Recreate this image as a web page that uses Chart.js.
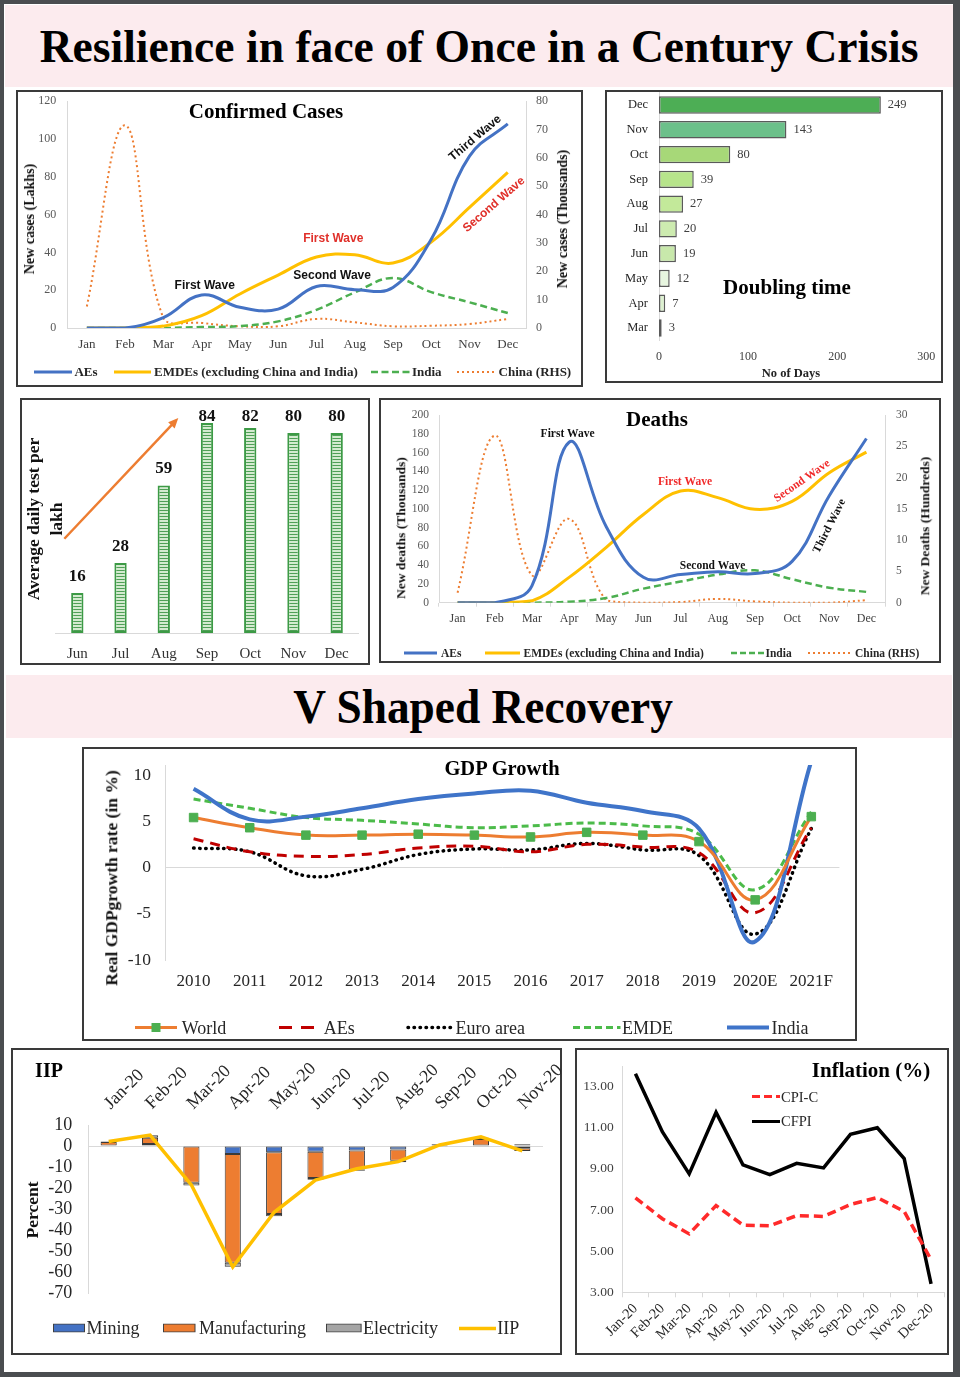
<!DOCTYPE html>
<html><head><meta charset="utf-8">
<script src="https://cdn.jsdelivr.net/npm/chart.js@4.4.1/dist/chart.umd.min.js"></script>
<style>
html,body{margin:0;padding:0;}
body{width:960px;height:1377px;background:#4a4d50;position:relative;overflow:hidden;font-family:"Liberation Serif","Times New Roman",serif;}
#sheet{position:absolute;left:4px;top:4px;width:949px;height:1368px;background:#fff;}
.band{position:absolute;background:#fcebee;}
.panel{position:absolute;box-sizing:border-box;border:2px solid #3a3a3a;background:#fff;}
canvas{position:absolute;}
.t{position:absolute;transform:translate(-50%,-50%);white-space:nowrap;font-weight:bold;line-height:1;color:#000;}
.r{transform:translate(-50%,-50%) rotate(-90deg);color:#111;}
.lg{position:absolute;display:flex;align-items:center;transform:translateY(-50%);white-space:nowrap;line-height:1;color:#262626;}
</style></head>
<body>
<div id="sheet"></div>
<div class="band" style="left:5px;top:5px;width:948px;height:82px"></div>
<div class="band" style="left:6px;top:675px;width:946px;height:63px"></div>
<div class="t" style="left:479px;top:46px;font-size:47px;transform:translate(-50%,-50%) scaleX(0.97)">Resilience in face of Once in a Century Crisis</div>
<div class="t" style="left:483px;top:707px;font-size:48px;transform:translate(-50%,-50%) scaleX(0.945)">V Shaped Recovery</div>

<div class="panel" style="left:16px;top:90px;width:567px;height:297px"></div>
<div class="panel" style="left:605px;top:90px;width:338px;height:293px"></div>
<div class="panel" style="left:20px;top:398px;width:350px;height:267px"></div>
<div class="panel" style="left:379px;top:398px;width:562px;height:265px"></div>
<div class="panel" style="left:82px;top:747px;width:775px;height:294px"></div>
<div class="panel" style="left:11px;top:1048px;width:551px;height:307px"></div>
<div class="panel" style="left:575px;top:1048px;width:374px;height:307px"></div>

<canvas id="c1" width="563" height="293" style="left:18px;top:92px"></canvas>
<canvas id="c2" width="334" height="289" style="left:607px;top:92px"></canvas>
<canvas id="c3" width="346" height="263" style="left:22px;top:400px"></canvas>
<canvas id="c4" width="558" height="261" style="left:381px;top:400px"></canvas>
<canvas id="c5" width="770" height="290" style="left:85px;top:749px"></canvas>
<canvas id="c6" width="548" height="303" style="left:13px;top:1050px"></canvas>
<canvas id="c7" width="369" height="303" style="left:578px;top:1050px"></canvas>

<div class="t" style="left:266px;top:111px;font-size:21px">Confirmed Cases</div>
<div class="t" style="left:787px;top:287px;font-size:21px">Doubling time</div>
<div class="t" style="left:791px;top:373px;font-size:12.5px;color:#222">No of Days</div>
<div class="t" style="left:657px;top:419px;font-size:21px">Deaths</div>
<div class="t" style="left:502px;top:768px;font-size:20.5px">GDP Growth</div>
<div class="t" style="left:49px;top:1070px;font-size:20px">IIP</div>
<div class="t" style="left:871px;top:1070px;font-size:21px">Inflation (%)</div>

<div class="t r" style="left:30px;top:219px;font-size:14px">New cases (Lakhs)</div>
<div class="t r" style="left:563px;top:219px;font-size:14px">New cases (Thousands)</div>
<div class="t r" style="left:45px;top:519px;font-size:17.5px;line-height:23.4px;text-align:center">Average daily test per<br>lakh</div>
<div class="t r" style="left:401px;top:528px;font-size:13.5px">New deaths (Thousands)</div>
<div class="t r" style="left:925px;top:526px;font-size:13.5px">New Deaths (Hundreds)</div>
<div class="t r" style="left:112px;top:878px;font-size:17.5px">Real GDPgrowth rate (in %)</div>
<div class="t r" style="left:33px;top:1210px;font-size:17.5px">Percent</div>

<script>
// ---------------- DATA ----------------
const months = ['Jan','Feb','Mar','Apr','May','Jun','Jul','Aug','Sep','Oct','Nov','Dec'];

const casesLeftTicks = [0,20,40,60,80,100,120];
const casesRightTicks = [0,10,20,30,40,50,60,70,80];
const casesAEs = [0, 0, 5.5, 17.5, 11, 10, 22, 20.3, 21.5, 47, 91, 108];
const casesEMDEs = [0, 0, 1, 6.5, 18, 28, 37.6, 38.8, 34.4, 45.5, 63.8, 82.4];
const casesIndia = [0, 0, 0, 0.5, 1, 3.5, 9.6, 18.8, 26.5, 19, 13.6, 7.9];
const casesChina = [7.6, 71.5, 3.5, 1.8, 0.6, 0.6, 3.2, 2, 0.6, 0.8, 1.4, 3.2];

const doublingMonths = ['Dec','Nov','Oct','Sep','Aug','Jul','Jun','May','Apr','Mar'];
const doublingDays = [249, 143, 80, 39, 27, 20, 19, 12, 7, 3];
const doublingTicks = [0, 100, 200, 300];
const doublingColors = ['#4dae55','#6cc08a','#a7d878','#b7e48b','#c3e99a','#cdebb0','#c8e8ab','#e7f5df','#ddf1d0','#ebf7e5'];

const testMonths = ['Jun','Jul','Aug','Sep','Oct','Nov','Dec'];
const testsPerLakh = [16, 28, 59, 84, 82, 80, 80];

const deathsLeftTicks = [0,20,40,60,80,100,120,140,160,180,200];
const deathsRightTicks = [0,5,10,15,20,25,30];
const deathsAEs = [0, 0, 18, 171, 81, 27, 30, 33, 31, 44, 114, 175];
const deathsEMDEs = [0, 0, 2, 27, 59, 94, 119, 112, 99.5, 108, 138.5, 160.5];
const deathsIndia = [0, 0, 0, 1, 5, 15, 22.5, 30, 34.5, 25, 16, 11.5];
const deathsChina = [1.6, 26.7, 4.4, 13.4, 0.4, 0, 0.1, 0.6, 0.2, 0, 0, 0.4];

const gdpYears = ['2010','2011','2012','2013','2014','2015','2016','2017','2018','2019','2020E','2021F'];
const gdpTicks = [-10, -5, 0, 5, 10];
const gdpWorld = [5.4, 4.3, 3.5, 3.5, 3.6, 3.5, 3.3, 3.8, 3.5, 2.8, -3.5, 5.5];
const gdpAEs = [3.1, 1.7, 1.2, 1.4, 2.1, 2.3, 1.7, 2.5, 2.2, 1.6, -4.9, 4.3];
const gdpEuro = [2.1, 1.7, -0.9, -0.2, 1.4, 2.0, 1.9, 2.6, 1.9, 1.3, -7.2, 4.2];
const gdpEMDE = [7.4, 6.4, 5.4, 5.1, 4.7, 4.3, 4.5, 4.8, 4.5, 3.6, -2.4, 6.0];
const gdpIndia = [8.5, 5.2, 5.5, 6.4, 7.4, 8.0, 8.3, 7.0, 6.1, 4.2, -8.0, 11.5];

const iipMonths = ['Jan-20','Feb-20','Mar-20','Apr-20','May-20','Jun-20','Jul-20','Aug-20','Sep-20','Oct-20','Nov-20'];
const iipTicks = [-70, -60, -50, -40, -30, -20, -10, 0, 10];
const iipMining = [0.2, 1.0, -0.2, -3.8, -3.0, -2.7, -2.1, -1.6, -0.3, -0.3, -1.1];
const iipManufacturing = [1.7, 2.9, -17.2, -51.7, -29.3, -12.5, -9.0, -5.4, 0.2, 3.3, -1.3];
const iipElectricity = [0.3, 1.2, -1.3, -1.9, -1.1, -0.8, -0.6, -0.7, 0.6, 0.6, 0.8];
const iipIndex = [2.2, 5.2, -18.5, -57.5, -31.5, -16.2, -10.8, -7.4, 0.5, 4.4, -2.3];

const inflMonths = ['Jan-20','Feb-20','Mar-20','Apr-20','May-20','Jun-20','Jul-20','Aug-20','Sep-20','Oct-20','Nov-20','Dec-20'];
const inflTicks = [3, 5, 7, 9, 11, 13];
const cpiC = [7.59, 6.58, 5.84, 7.22, 6.27, 6.23, 6.73, 6.69, 7.27, 7.61, 6.93, 4.59];
const cfpi = [13.63, 10.81, 8.76, 11.75, 9.2, 8.72, 9.27, 9.05, 10.68, 11.0, 9.5, 3.41];

// ---------------- SETUP ----------------
Chart.defaults.font.family = '"Liberation Serif","Times New Roman",serif';
Chart.defaults.color = '#404040';
Chart.defaults.animation = false;
Chart.defaults.responsive = false;
Chart.defaults.maintainAspectRatio = false;
Chart.defaults.devicePixelRatio = 1;
Chart.defaults.plugins.legend.display = false;
Chart.defaults.plugins.tooltip.enabled = false;
Chart.defaults.elements.point.radius = 0;

const fixW = w => s => { s.width = w; s.paddingTop = 0; s.paddingBottom = 0; };
const fixH = h => s => { s.height = h; s.paddingLeft = 0; s.paddingRight = 0; };
const setTicks = arr => s => { s.ticks = arr.map(v => ({value: v})); };
const zeroOnly = c => (c.tick && c.tick.value === 0) ? '#d9d9d9' : 'rgba(0,0,0,0)';
const LG = '#d9d9d9';
const NOGRID = {display: false, drawTicks: false};

const annotText = {
  id: 'annotText',
  afterDatasetsDraw(chart, args, o) {
    const ctx = chart.ctx;
    (o.items || []).forEach(it => {
      const x = chart.scales.x.getPixelForValue(it.x);
      const y = chart.scales[it.axis || 'y'].getPixelForValue(it.y);
      ctx.save();
      ctx.translate(x, y);
      ctx.rotate((it.rot || 0) * Math.PI / 180);
      ctx.font = it.font || o.font;
      ctx.fillStyle = it.color || '#000';
      ctx.textAlign = 'center';
      ctx.textBaseline = 'middle';
      ctx.fillText(it.text, 0, 0);
      ctx.restore();
    });
  }
};

const barLabels = {
  id: 'barLabels',
  afterDatasetsDraw(chart, args, o) {
    const ctx = chart.ctx, meta = chart.getDatasetMeta(0), vals = chart.data.datasets[0].data;
    ctx.save();
    ctx.font = o.font; ctx.fillStyle = o.color; ctx.textBaseline = 'middle';
    meta.data.forEach((el, i) => {
      const t = String(vals[i]);
      if (o.horizontal) { ctx.textAlign = 'left'; ctx.fillText(t, el.x + o.offset, el.y); }
      else { ctx.textAlign = 'center'; ctx.fillText(t, el.x, Math.max(el.y - o.offset, chart.chartArea.top + (o.minTop || 0))); }
    });
    ctx.restore();
  }
};

const arrowPlugin = {
  id: 'arrow',
  afterDatasetsDraw(chart, args, o) {
    const xs = chart.scales.x, ys = chart.scales.y, ctx = chart.ctx;
    const x1 = xs.getPixelForValue(o.from[0]), y1 = ys.getPixelForValue(o.from[1]);
    const x2 = xs.getPixelForValue(o.to[0]), y2 = ys.getPixelForValue(o.to[1]);
    const a = Math.atan2(y2 - y1, x2 - x1), h = o.head || 11;
    ctx.save();
    ctx.strokeStyle = o.color; ctx.fillStyle = o.color; ctx.lineWidth = o.width;
    ctx.beginPath(); ctx.moveTo(x1, y1);
    ctx.lineTo(x2 - h * 0.8 * Math.cos(a), y2 - h * 0.8 * Math.sin(a)); ctx.stroke();
    ctx.beginPath(); ctx.moveTo(x2, y2);
    ctx.lineTo(x2 - h * Math.cos(a - 0.42), y2 - h * Math.sin(a - 0.42));
    ctx.lineTo(x2 - h * Math.cos(a + 0.42), y2 - h * Math.sin(a + 0.42));
    ctx.closePath(); ctx.fill();
    ctx.restore();
  }
};

function stripePattern() {
  const c = document.createElement('canvas'); c.width = 4; c.height = 3;
  const g = c.getContext('2d');
  g.fillStyle = '#d3ebcf'; g.fillRect(0, 0, 4, 3);
  g.fillStyle = '#4f9f56'; g.fillRect(0, 2, 4, 1);
  return g.createPattern(c, 'repeat');
}

// legend helpers (HTML)
function lineSw(w, color, lw, dash, cap, marker) {
  return '<svg width="' + w + '" height="12" style="display:block;overflow:visible"><line x1="0" y1="6" x2="' + w + '" y2="6" stroke="' + color + '" stroke-width="' + lw + '"' + (dash ? ' stroke-dasharray="' + dash + '"' : '') + ' stroke-linecap="' + (cap || 'butt') + '"/>' + (marker || '') + '</svg>';
}
function boxSw(w, h, color) {
  return '<svg width="' + w + '" height="' + h + '" style="display:block"><rect x="0.5" y="0.5" width="' + (w - 1) + '" height="' + (h - 1) + '" fill="' + color + '" stroke="#404040" stroke-width="1"/></svg>';
}
function legend(items, font) {
  items.forEach(it => {
    const d = document.createElement('div');
    d.className = 'lg';
    d.style.left = it.x + 'px'; d.style.top = it.y + 'px'; d.style.font = font;
    d.innerHTML = it.sw + '<span style="margin-left:' + it.gap + 'px">' + it.text + '</span>';
    document.body.appendChild(d);
  });
}

// ---------------- CHART 1: Confirmed cases ----------------
new Chart(document.getElementById('c1'), {
  type: 'line',
  data: { labels: months, datasets: [
    {data: casesAEs, borderColor: '#4472c4', borderWidth: 3, tension: 0.4, yAxisID: 'y'},
    {data: casesEMDEs, borderColor: '#ffc000', borderWidth: 3, tension: 0.4, yAxisID: 'y'},
    {data: casesIndia, borderColor: '#4caf50', borderWidth: 2.5, borderDash: [7, 4], tension: 0.4, yAxisID: 'y'},
    {data: casesChina, borderColor: '#ed7d31', borderWidth: 2, borderDash: [2, 3], tension: 0.4, yAxisID: 'y1'}
  ]},
  options: {
    responsive: false,
    layout: {padding: {left: 0, right: 0, top: 9.3, bottom: 0}},
    scales: {
      x: {offset: true, grid: NOGRID, border: {color: LG}, ticks: {autoSkip: false, padding: 9, font: {size: 13}, color: '#404040'}, afterFit: fixH(57)},
      y: {min: 0, max: 120, afterBuildTicks: setTicks(casesLeftTicks), grid: NOGRID, border: {color: LG}, ticks: {autoSkip: false, padding: 11.5, font: {size: 12}, color: '#595959'}, afterFit: fixW(49.7)},
      y1: {position: 'right', min: 0, max: 80, afterBuildTicks: setTicks(casesRightTicks), grid: NOGRID, border: {color: LG}, ticks: {autoSkip: false, padding: 9, font: {size: 12}, color: '#595959'}, afterFit: fixW(54.1)}
    },
    plugins: {annotText: {font: 'bold 12px "Liberation Sans"', items: [
      {text: 'First Wave', x: 3.08, y: 22.6, color: '#111'},
      {text: 'First Wave', x: 6.44, y: 47.1, color: '#e0302a'},
      {text: 'Second Wave', x: 6.41, y: 27.7, color: '#111'},
      {text: 'Third Wave', x: 10.15, y: 100.6, rot: -40, color: '#111'},
      {text: 'Second Wave', x: 10.64, y: 65.3, rot: -41, color: '#e0302a'}
    ]}}
  },
  plugins: [annotText]
});

// ---------------- CHART 2: Doubling time ----------------
new Chart(document.getElementById('c2'), {
  type: 'bar',
  data: { labels: doublingMonths, datasets: [
    {data: doublingDays, backgroundColor: doublingColors, borderColor: '#5a5a5a', borderWidth: 1.5, borderSkipped: false, barPercentage: 0.7, categoryPercentage: 1}
  ]},
  options: {
    responsive: false,
    indexAxis: 'y',
    layout: {padding: {left: 0, right: 14.7, top: 0.6, bottom: 0}},
    scales: {
      x: {min: 0, max: 300, afterBuildTicks: setTicks(doublingTicks), grid: NOGRID, border: {display: false}, ticks: {autoSkip: false, padding: 9, font: {size: 12}, color: '#404040'}, afterFit: fixH(40.6)},
      y: {grid: NOGRID, border: {color: LG}, ticks: {autoSkip: false, padding: 11, font: {size: 12.5}, color: '#262626'}, afterFit: fixW(52)}
    },
    plugins: {barLabels: {font: '12.5px "Liberation Serif"', color: '#404040', offset: 7, horizontal: true}}
  },
  plugins: [barLabels]
});

// ---------------- CHART 3: Tests ----------------
new Chart(document.getElementById('c3'), {
  type: 'bar',
  data: { labels: testMonths, datasets: [
    {data: testsPerLakh, backgroundColor: stripePattern(), borderColor: '#3c9a45', borderWidth: 2, borderSkipped: false, barPercentage: 0.285, categoryPercentage: 1}
  ]},
  options: {
    responsive: false,
    layout: {padding: {left: 33.7, right: 9.7, top: 3, bottom: 0}},
    scales: {
      x: {grid: NOGRID, border: {color: LG}, ticks: {autoSkip: false, padding: 12, font: {size: 15}, color: '#333'}, afterFit: fixH(30)},
      y: {display: false, min: 0, max: 92}
    },
    plugins: {
      barLabels: {font: 'bold 17px "Liberation Serif"', color: '#111', offset: 16.7, minTop: 13.7},
      arrow: {from: [-0.3, 37.7], to: [2.336, 86], color: '#ed7d31', width: 2.5, head: 11}
    }
  },
  plugins: [barLabels, arrowPlugin]
});

// ---------------- CHART 4: Deaths ----------------
new Chart(document.getElementById('c4'), {
  type: 'line',
  data: { labels: months, datasets: [
    {data: deathsAEs, borderColor: '#4472c4', borderWidth: 3, tension: 0.4, yAxisID: 'y'},
    {data: deathsEMDEs, borderColor: '#ffc000', borderWidth: 3, tension: 0.4, yAxisID: 'y'},
    {data: deathsIndia, borderColor: '#4caf50', borderWidth: 2.5, borderDash: [7, 4], tension: 0.4, yAxisID: 'y'},
    {data: deathsChina, borderColor: '#ed7d31', borderWidth: 2, borderDash: [2, 3], tension: 0.4, yAxisID: 'y1'}
  ]},
  options: {
    responsive: false,
    layout: {padding: {left: 0, right: 0, top: 15, bottom: 0}},
    scales: {
      x: {offset: true, grid: {display: true, drawOnChartArea: false, drawTicks: true, tickLength: 4, offset: true, color: LG}, border: {color: LG}, ticks: {autoSkip: false, padding: 5, font: {size: 12}, color: '#404040'}, afterFit: fixH(58.3)},
      y: {min: 0, max: 200, afterBuildTicks: setTicks(deathsLeftTicks), grid: NOGRID, border: {color: LG}, ticks: {autoSkip: false, padding: 10, font: {size: 11.5}, color: '#595959'}, afterFit: fixW(58)},
      y1: {position: 'right', min: 0, max: 30, afterBuildTicks: setTicks(deathsRightTicks), grid: NOGRID, border: {color: LG}, ticks: {autoSkip: false, padding: 11, font: {size: 11.5}, color: '#595959'}, afterFit: fixW(54)}
    },
    plugins: {annotText: {font: 'bold 11.5px "Liberation Serif"', items: [
      {text: 'First Wave', x: 2.96, y: 179.8, color: '#111'},
      {text: 'First Wave', x: 6.12, y: 128.6, color: '#f02a2a'},
      {text: 'Second Wave', x: 9.27, y: 129.7, rot: -35, color: '#f02a2a'},
      {text: 'Third Wave', x: 10.01, y: 81.7, rot: -63, color: '#111'},
      {text: 'Second Wave', x: 6.86, y: 39.1, color: '#111'}
    ]}}
  },
  plugins: [annotText]
});

// ---------------- CHART 5: GDP growth ----------------
new Chart(document.getElementById('c5'), {
  type: 'line',
  data: { labels: gdpYears, datasets: [
    {data: gdpWorld, borderColor: '#ed7d31', borderWidth: 3, tension: 0.4, pointRadius: 6, pointStyle: 'rect', pointBackgroundColor: '#4caf50', pointBorderColor: '#4caf50', pointBorderWidth: 1, order: 0},
    {data: gdpAEs, borderColor: '#c00000', borderWidth: 3, borderDash: [10, 7], tension: 0.4, order: 2},
    {data: gdpEuro, borderColor: '#000000', borderWidth: 3.5, borderDash: [0.5, 5.5], borderCapStyle: 'round', tension: 0.4, order: 2},
    {data: gdpEMDE, borderColor: '#4cbb4a', borderWidth: 3, borderDash: [7, 4], tension: 0.4, order: 2},
    {data: gdpIndia, borderColor: '#3f74c9', borderWidth: 4, tension: 0.4, order: 1}
  ]},
  options: {
    responsive: false,
    layout: {padding: {left: 0, right: 15.6, top: 16, bottom: 0}},
    scales: {
      x: {offset: true, grid: NOGRID, border: {display: false}, ticks: {autoSkip: false, padding: 11.5, font: {size: 17}, color: '#262626'}, afterFit: fixH(79)},
      y: {min: -10, max: 11.08, afterBuildTicks: setTicks(gdpTicks), grid: {color: zeroOnly, drawTicks: false}, border: {color: LG}, ticks: {autoSkip: false, padding: 14.5, font: {size: 17.5}, color: '#262626'}, afterFit: fixW(80.5)}
    }
  }
});

// ---------------- CHART 6: IIP ----------------
new Chart(document.getElementById('c6'), {
  type: 'bar',
  data: { labels: iipMonths, datasets: [
    {type: 'line', data: iipIndex, borderColor: '#ffc000', borderWidth: 3.5, tension: 0, pointRadius: 0, stack: 'iip', order: 0, fill: false},
    {data: iipMining, backgroundColor: '#4472c4', borderColor: '#3a3a3a', borderWidth: 1, borderSkipped: false, barPercentage: 0.39, categoryPercentage: 1, order: 1},
    {data: iipManufacturing, backgroundColor: '#ed7d31', borderColor: '#3a3a3a', borderWidth: 1, borderSkipped: false, barPercentage: 0.39, categoryPercentage: 1, order: 1},
    {data: iipElectricity, backgroundColor: '#a5a5a5', borderColor: '#3a3a3a', borderWidth: 1, borderSkipped: false, barPercentage: 0.39, categoryPercentage: 1, order: 1}
  ]},
  options: {
    responsive: false,
    layout: {padding: {left: 0, right: 18, top: 0, bottom: 59.7}},
    scales: {
      x: {position: 'top', stacked: true, grid: NOGRID, border: {display: false}, ticks: {autoSkip: false, padding: 11, labelOffset: 14, minRotation: 45, maxRotation: 45, font: {size: 18}, color: '#262626'}, afterFit: fixH(75)},
      y: {stacked: true, min: -70, max: 10, afterBuildTicks: setTicks(iipTicks), grid: {color: zeroOnly, drawTicks: false}, border: {color: LG}, ticks: {autoSkip: false, padding: 15.7, font: {size: 18}, color: '#262626'}, afterFit: fixW(75)}
    }
  }
});

// ---------------- CHART 7: Inflation ----------------
new Chart(document.getElementById('c7'), {
  type: 'line',
  data: { labels: inflMonths, datasets: [
    {data: cpiC, borderColor: '#ff2a2a', borderWidth: 3.5, borderDash: [9, 5], tension: 0},
    {data: cfpi, borderColor: '#000000', borderWidth: 3.5, tension: 0}
  ]},
  options: {
    responsive: false,
    layout: {padding: {left: 0, right: 2.5, top: 16.1, bottom: 0}},
    scales: {
      x: {offset: true, grid: {display: true, drawOnChartArea: false, drawTicks: true, tickLength: 5, offset: true, color: LG}, border: {color: LG}, ticks: {autoSkip: false, padding: 3, minRotation: 45, maxRotation: 45, font: {size: 14.5}, color: '#262626'}, afterFit: fixH(60.7)},
      y: {min: 3, max: 14, afterBuildTicks: setTicks(inflTicks), grid: NOGRID, border: {color: LG}, ticks: {autoSkip: false, padding: 8.3, font: {size: 13.5}, color: '#404040', callback: v => Number(v).toFixed(2)}, afterFit: fixW(44)}
    }
  }
});

// ---------------- HTML legends ----------------
legend([
  {x: 33.8, y: 372.3, sw: lineSw(38, '#4472c4', 3), gap: 2.7, text: 'AEs'},
  {x: 113.6, y: 372.3, sw: lineSw(37, '#ffc000', 3), gap: 3.4, text: 'EMDEs (excluding China and India)'},
  {x: 370.7, y: 372.3, sw: lineSw(38.7, '#4caf50', 2.5, '7 3.5'), gap: 2.6, text: 'India'},
  {x: 457, y: 372.3, sw: lineSw(38, '#ed7d31', 2, '2 3'), gap: 3.6, text: 'China (RHS)'}
], 'bold 13px "Liberation Serif"');

legend([
  {x: 404, y: 652.7, sw: lineSw(33, '#4472c4', 3), gap: 4, text: 'AEs'},
  {x: 485, y: 652.7, sw: lineSw(35, '#ffc000', 3), gap: 3.5, text: 'EMDEs (excluding China and India)'},
  {x: 730.7, y: 652.7, sw: lineSw(33, '#4caf50', 2.5, '6 3'), gap: 1.8, text: 'India'},
  {x: 807.7, y: 652.7, sw: lineSw(44, '#ed7d31', 2, '2 3'), gap: 3.3, text: 'China (RHS)'}
], 'bold 11.5px "Liberation Serif"');

legend([
  {x: 134.7, y: 1027.7, sw: lineSw(42, '#ed7d31', 3, null, 'butt', '<rect x="16.5" y="1.5" width="9" height="9" fill="#4caf50"/>'), gap: 5, text: 'World'},
  {x: 279, y: 1027.7, sw: lineSw(35, '#c00000', 3, '13 9'), gap: 9.8, text: 'AEs'},
  {x: 408, y: 1027.7, sw: lineSw(42.6, '#000', 3.5, '0.5 5.5', 'round'), gap: 5, text: 'Euro area'},
  {x: 572.5, y: 1027.7, sw: lineSw(47.5, '#4cbb4a', 3, '7 4'), gap: 2, text: 'EMDE'},
  {x: 727, y: 1027.7, sw: lineSw(42, '#3f74c9', 4), gap: 2.5, text: 'India'}
], '18px "Liberation Serif"');

legend([
  {x: 52.6, y: 1328, sw: boxSw(32, 9, '#4472c4'), gap: 2, text: 'Mining'},
  {x: 163, y: 1328, sw: boxSw(32.5, 9, '#ed7d31'), gap: 3.5, text: 'Manufacturing'},
  {x: 326, y: 1328, sw: boxSw(35.6, 9, '#a5a5a5'), gap: 1.4, text: 'Electricity'},
  {x: 458.7, y: 1328, sw: lineSw(37, '#ffc000', 3.5), gap: 1.5, text: 'IIP'}
], '18px "Liberation Serif"');

legend([
  {x: 752, y: 1096.7, sw: lineSw(28, '#ff2a2a', 3, '8 4'), gap: 1, text: 'CPI-C'},
  {x: 752, y: 1121, sw: lineSw(28, '#000', 3), gap: 1, text: 'CFPI'}
], '14.5px "Liberation Serif"');
</script>
</body></html>
